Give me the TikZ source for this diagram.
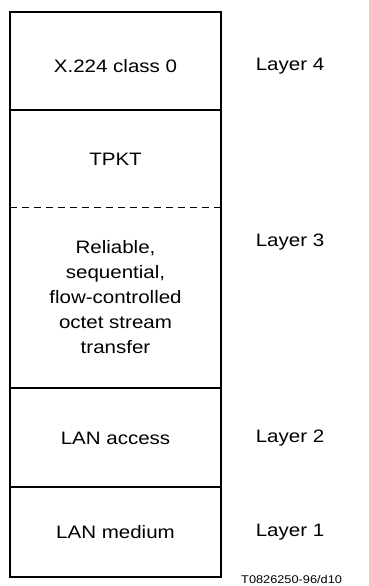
\documentclass[tikz,border=0pt]{standalone}
\usepackage{fontspec}
\setmainfont{Liberation Sans}[FakeStretch=1.14]
\begin{document}
\begin{tikzpicture}[x=1pt,y=-1pt,
  lbl/.style={inner sep=0pt,font=\fontsize{18}{25}\selectfont,align=center,text=black},
  frame/.style={line width=1.3pt,draw=black},
  divider/.style={line width=2pt,draw=black},
  sublayer/.style={line width=0.7pt,draw=black,dash pattern=on 7pt off 5pt}]
\useasboundingbox (0,0) rectangle (368,586);
\coordinate (tl) at (10,12);
\coordinate (br) at (221,577);
\draw[frame] (tl) rectangle (br);
\coordinate (d1l) at (10,110); \coordinate (d1r) at (221,110);
\coordinate (d2l) at (10,388); \coordinate (d2r) at (221,388);
\coordinate (d3l) at (10,487); \coordinate (d3r) at (221,487);
\coordinate (dsl) at (10,207); \coordinate (dsr) at (221,207);
\draw[divider] (d1l) -- (d1r);
\draw[divider] (d2l) -- (d2r);
\draw[divider] (d3l) -- (d3r);
\draw[sublayer] (dsl) -- (dsr);
\node[lbl] (x224) at (115.5,66) {X.224 class 0};
\node[lbl] (tpkt) at (115.5,159) {TPKT};
\node[lbl] (rel) at (115.5,297) {Reliable,\\sequential,\\flow-controlled\\octet stream\\transfer};
\node[lbl] (lana) at (115.5,438) {LAN access};
\node[lbl] (lanm) at (115.5,532) {LAN medium};
\node[lbl] (l4) at (290,66) {Layer 4};
\node[lbl] (l3) at (290,242) {Layer 3};
\node[lbl] (l2) at (290,438) {Layer 2};
\node[lbl] (l1) at (290,532) {Layer 1};
\node[inner sep=0pt,anchor=west,font=\fontsize{11.2}{13}\selectfont] (id) at (241,579) {T0826250-96/d10};
\end{tikzpicture}
\end{document}
